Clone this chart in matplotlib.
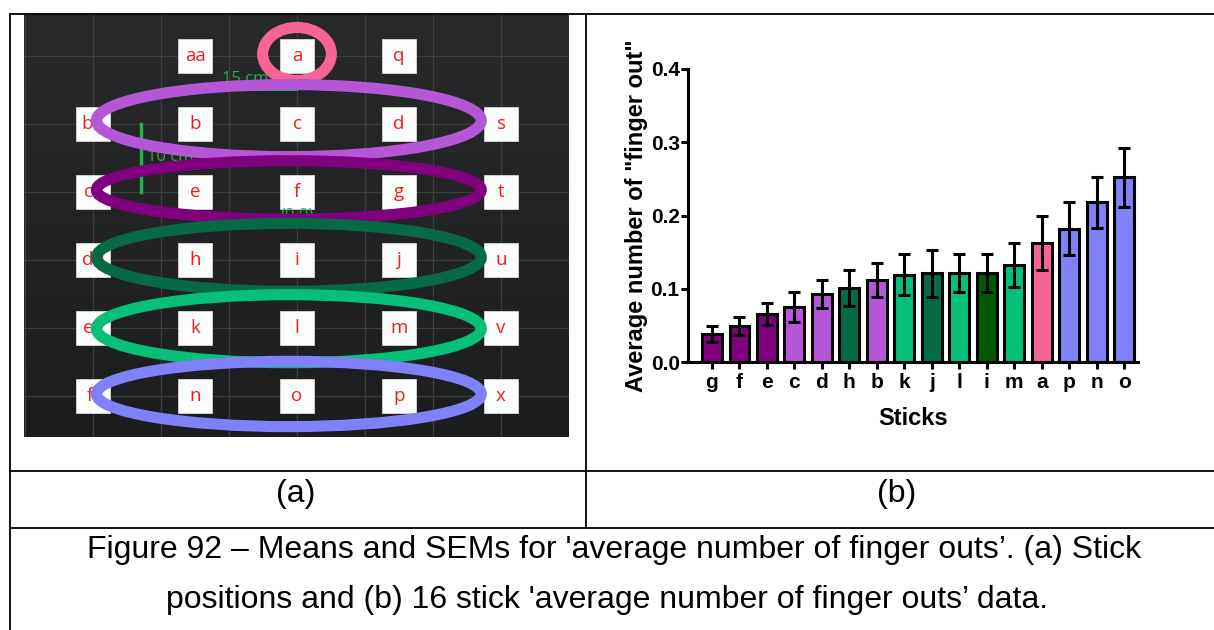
import numpy as np
import matplotlib
matplotlib.use('Agg')
import matplotlib.pyplot as plt
from matplotlib.patches import Ellipse, Rectangle
from matplotlib.lines import Line2D
from matplotlib.colors import LinearSegmentedColormap

# ---------------- data ----------------
sticks = ['g', 'f', 'e', 'c', 'd', 'h', 'b', 'k', 'j', 'l', 'i', 'm', 'a', 'p', 'n', 'o']
means = [0.038, 0.049, 0.066, 0.075, 0.093, 0.101, 0.112, 0.119, 0.121, 0.121,
         0.122, 0.133, 0.163, 0.182, 0.218, 0.252]
sems = [0.011, 0.012, 0.015, 0.021, 0.019, 0.024, 0.023, 0.028, 0.032, 0.026,
        0.026, 0.030, 0.037, 0.036, 0.035, 0.040]

PINK, PURPLE, DPURPLE = '#F86494', '#B556D6', '#800080'
DGREEN, GREEN, DDGREEN, BLUE = '#066B45', '#06BF78', '#005A00', '#8080F8'
bar_colors = [DPURPLE, DPURPLE, DPURPLE, PURPLE, PURPLE, DGREEN, PURPLE, GREEN,
              DGREEN, GREEN, DDGREEN, GREEN, PINK, BLUE, BLUE, BLUE]

# stick layout (cm); '' = no stick
grid_labels = [['', 'aa', 'a', 'q', ''],
               ['bb', 'b', 'c', 'd', 's'],
               ['cc', 'e', 'f', 'g', 't'],
               ['dd', 'h', 'i', 'j', 'u'],
               ['ee', 'k', 'l', 'm', 'v'],
               ['ff', 'n', 'o', 'p', 'x']]
col_x = [-30, -15, 0, 15, 30]
row_y = [20, 10, 0, -10, -20, -30]

# groupings drawn as rings: (center x, center y, width, height, colour)
rings = [(0.0, 20.3, 10.1, 7.8, PINK),
         (-1.2, 10.5, 56.6, 10.6, PURPLE),
         (-1.2, 0.3, 56.6, 8.6, DPURPLE),
         (-1.2, -9.6, 56.6, 10.0, DGREEN),
         (-1.2, -20.1, 56.6, 10.0, GREEN),
         (-1.2, -29.7, 56.6, 9.6, BLUE)]

W, H = 1214, 630
fig = plt.figure(figsize=(W / 100, H / 100), dpi=100)
fig.patch.set_facecolor('white')


def fx(px):
    return px / W


def fy(py):
    return 1 - py / H


def rect(l, t, r, b):
    return [fx(l), fy(b), (r - l) / W, (b - t) / H]


# ---------------- table lines ----------------
def hline(y, x0, x1):
    fig.add_artist(Line2D([fx(x0), fx(x1)], [fy(y), fy(y)], color='black', lw=1.3,
                          transform=fig.transFigure))


def vline(x, y0, y1):
    fig.add_artist(Line2D([fx(x), fx(x)], [fy(y0), fy(y1)], color='black', lw=1.3,
                          transform=fig.transFigure))


hline(14, 10, 1214)
hline(470.7, 10, 1214)
hline(527.7, 10, 1214)
vline(10.3, 14, 630)
vline(585.5, 14, 527.7)

# ---------------- panel (a) ----------------
ax1 = fig.add_axes(rect(24, 14, 569, 437))
s = 6.8  # px per cm
xmin, xmax = (24 - 297) / s, (569 - 297) / s
ymax, ymin = (192 - 14) / s, (192 - 437) / s
cmap = LinearSegmentedColormap.from_list('bg', ['#28292B', '#1C1D1F'])
ax1.imshow(np.linspace(0, 1, 200).reshape(-1, 1), cmap=cmap, aspect='auto',
           extent=[xmin, xmax, ymin, ymax], origin='upper', zorder=0)
for gx in range(-40, 41, 10):
    ax1.axvline(gx, color='#3D3E40', lw=0.9, zorder=1)
for gy in range(-30, 21, 10):
    ax1.axhline(gy, color='#3D3E40', lw=0.9, zorder=1)

for r, row in enumerate(grid_labels):
    for c, lab in enumerate(row):
        if not lab:
            continue
        x, y = col_x[c], row_y[r]
        ax1.add_patch(Rectangle((x - 2.5, y - 2.5), 5, 5, fc='#FBFCFC', ec='#D8D8D8',
                                lw=0.6, zorder=2))
        ax1.text(x, y, lab, color='#F01E1E', fontsize=13.5, ha='center', va='center',
                 family='Open Sans', zorder=3)

# green scale annotations
ag = '#22B24C'
ax1.plot([-11, 0], [15, 15], color=ag, lw=1.5, zorder=2)
ax1.text(-11, 15.4, '15 cm', color=ag, fontsize=12, ha='left', va='bottom',
         family='Open Sans', zorder=2)
ax1.plot([-22.9, -22.9], [10, 0], color=ag, lw=2.5, zorder=2)
ax1.text(-22.1, 5.2, '10 cm', color=ag, fontsize=12, ha='left', va='center',
         family='Open Sans', zorder=2)
ax1.text(0, -3.4, '(0,0)', color=ag, fontsize=12, ha='center', va='center',
         family='Open Sans', zorder=2)

for cx, cy, w, h, col in rings:
    ax1.add_patch(Ellipse((cx, cy), w, h, fill=False, ec=col, lw=8, zorder=5))

ax1.set_xlim(xmin, xmax)
ax1.set_ylim(ymin, ymax)
ax1.axis('off')

# ---------------- panel (b) ----------------
ax2 = fig.add_axes(rect(688, 69, 1138, 362))
xs = np.arange(len(sticks))
ax2.bar(xs, means, width=0.72, color=bar_colors, edgecolor='black', linewidth=2.2,
        zorder=2)
ax2.errorbar(xs, means, yerr=sems, fmt='none', ecolor='black', elinewidth=2.2,
             capsize=4, capthick=2.2, zorder=3)
ax2.set_xlim(-0.87, 15.5)
ax2.set_ylim(0, 0.4)
ax2.set_yticks([0.0, 0.1, 0.2, 0.3, 0.4])
ax2.set_yticklabels(['0.0', '0.1', '0.2', '0.3', '0.4'])
ax2.set_xticks(xs)
ax2.set_xticklabels(sticks)
for sp in ['top', 'right']:
    ax2.spines[sp].set_visible(False)
for sp in ['left', 'bottom']:
    ax2.spines[sp].set_linewidth(2.2)
ax2.tick_params(axis='both', direction='out', length=5, width=2.2, labelsize=15, pad=1)
ax2.tick_params(axis='x', pad=3)
for lab in ax2.get_xticklabels() + ax2.get_yticklabels():
    lab.set_fontweight('bold')
    lab.set_family('Liberation Sans')
ax2.set_xlabel('Sticks', fontsize=17, fontweight='bold', family='Liberation Sans',
               labelpad=11)
ax2.set_ylabel('Average number of "finger out"', fontsize=17, fontweight='bold',
               family='Liberation Sans', labelpad=2)

# ---------------- captions ----------------
cap = 23
fig.text(fx(296), fy(494), '(a)', ha='center', va='center', fontsize=cap,
         family='Liberation Sans')
fig.text(fx(897), fy(494), '(b)', ha='center', va='center', fontsize=cap,
         family='Liberation Sans')
fig.text(fx(614), fy(550),
         "Figure 92 \u2013 Means and SEMs for 'average number of finger outs\u2019. (a) Stick",
         ha='center', va='center', fontsize=cap, family='Liberation Sans')
fig.text(fx(607), fy(600),
         "positions and (b) 16 stick 'average number of finger outs\u2019 data.",
         ha='center', va='center', fontsize=cap, family='Liberation Sans')

fig.savefig('out.png', dpi=100)
